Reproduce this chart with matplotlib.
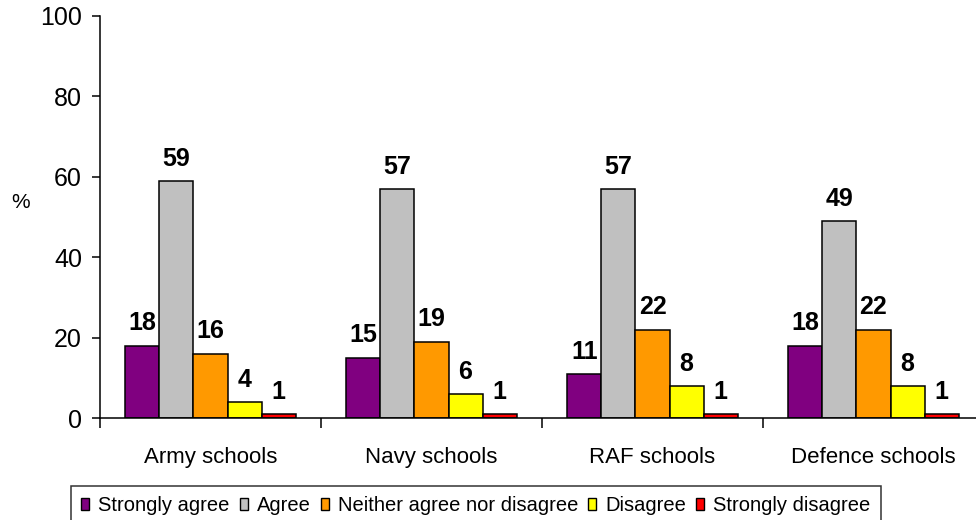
import matplotlib
matplotlib.use("Agg")
import matplotlib.pyplot as plt
import numpy as np
from matplotlib.patches import Patch

plt.rcParams['font.family'] = ['Liberation Sans', 'DejaVu Sans']

categories = ["Army schools", "Navy schools", "RAF schools", "Defence schools"]
responses = ["Strongly agree", "Agree", "Neither agree nor disagree",
             "Disagree", "Strongly disagree"]
strongly_agree = [18, 15, 11, 18]
agree = [59, 57, 57, 49]
neither = [16, 19, 22, 22]
disagree = [4, 6, 8, 8]
strongly_disagree = [1, 1, 1, 1]
y_ticks = [0, 20, 40, 60, 80, 100]

series = [strongly_agree, agree, neither, disagree, strongly_disagree]
colors = ["#800080", "#C0C0C0", "#FF9900", "#FFFF00", "#FF0000"]

fig = plt.figure(figsize=(9.76, 5.2), dpi=100)
ax = fig.add_axes([100 / 976, 102 / 520, 876 / 976, 402 / 520])

x = np.arange(len(categories))
width = 0.154
n = len(series)
for i, (vals, col) in enumerate(zip(series, colors)):
    offs = (i - (n - 1) / 2) * width
    bars = ax.bar(x + offs, vals, width, color=col, edgecolor="black",
                  linewidth=1.1, zorder=2)
    for b, v in zip(bars, vals):
        ax.annotate(f"{v}", (b.get_x() + b.get_width() / 2, v),
                    xytext=(0, 11), textcoords="offset points",
                    ha="center", va="baseline", fontsize=18,
                    fontweight="bold")

ax.set_ylim(0, 100)
ax.set_yticks(y_ticks)
ax.set_xlim(-0.5, 3.5 - 8 / 221)

# group separators as major ticks, category names on minor ticks
ax.set_xticks(np.arange(-0.5, 3.0, 1.0))
ax.set_xticklabels([])
ax.set_xticks(x, minor=True)
ax.set_xticklabels(categories, minor=True, fontsize=16)
ax.tick_params(axis="x", which="major", direction="out", length=7,
               width=1.1)
ax.tick_params(axis="x", which="minor", length=0, pad=21)
ax.tick_params(axis="y", direction="out", length=6, width=1.1, pad=7,
               labelsize=18)

for s in ["top", "right"]:
    ax.spines[s].set_visible(False)
for s in ["left", "bottom"]:
    ax.spines[s].set_linewidth(1.1)

fig.text(21 / 976, 1 - 203 / 520, "%", ha="center", va="center",
         fontsize=15)

handles = [Patch(facecolor=c, edgecolor="black", linewidth=1.0)
           for c in colors]
leg = fig.legend(handles, responses, loc="upper left",
                 bbox_to_anchor=(71 / 976, 1 - 486 / 520),
                 ncol=5, fontsize=14.5, frameon=True, fancybox=False,
                 edgecolor="black", handlelength=0.4, handleheight=0.5,
                 handletextpad=0.45, columnspacing=0.5, borderpad=0.5,
                 borderaxespad=0)
leg.get_frame().set_linewidth(1.1)

fig.savefig("out.png", dpi=100)
